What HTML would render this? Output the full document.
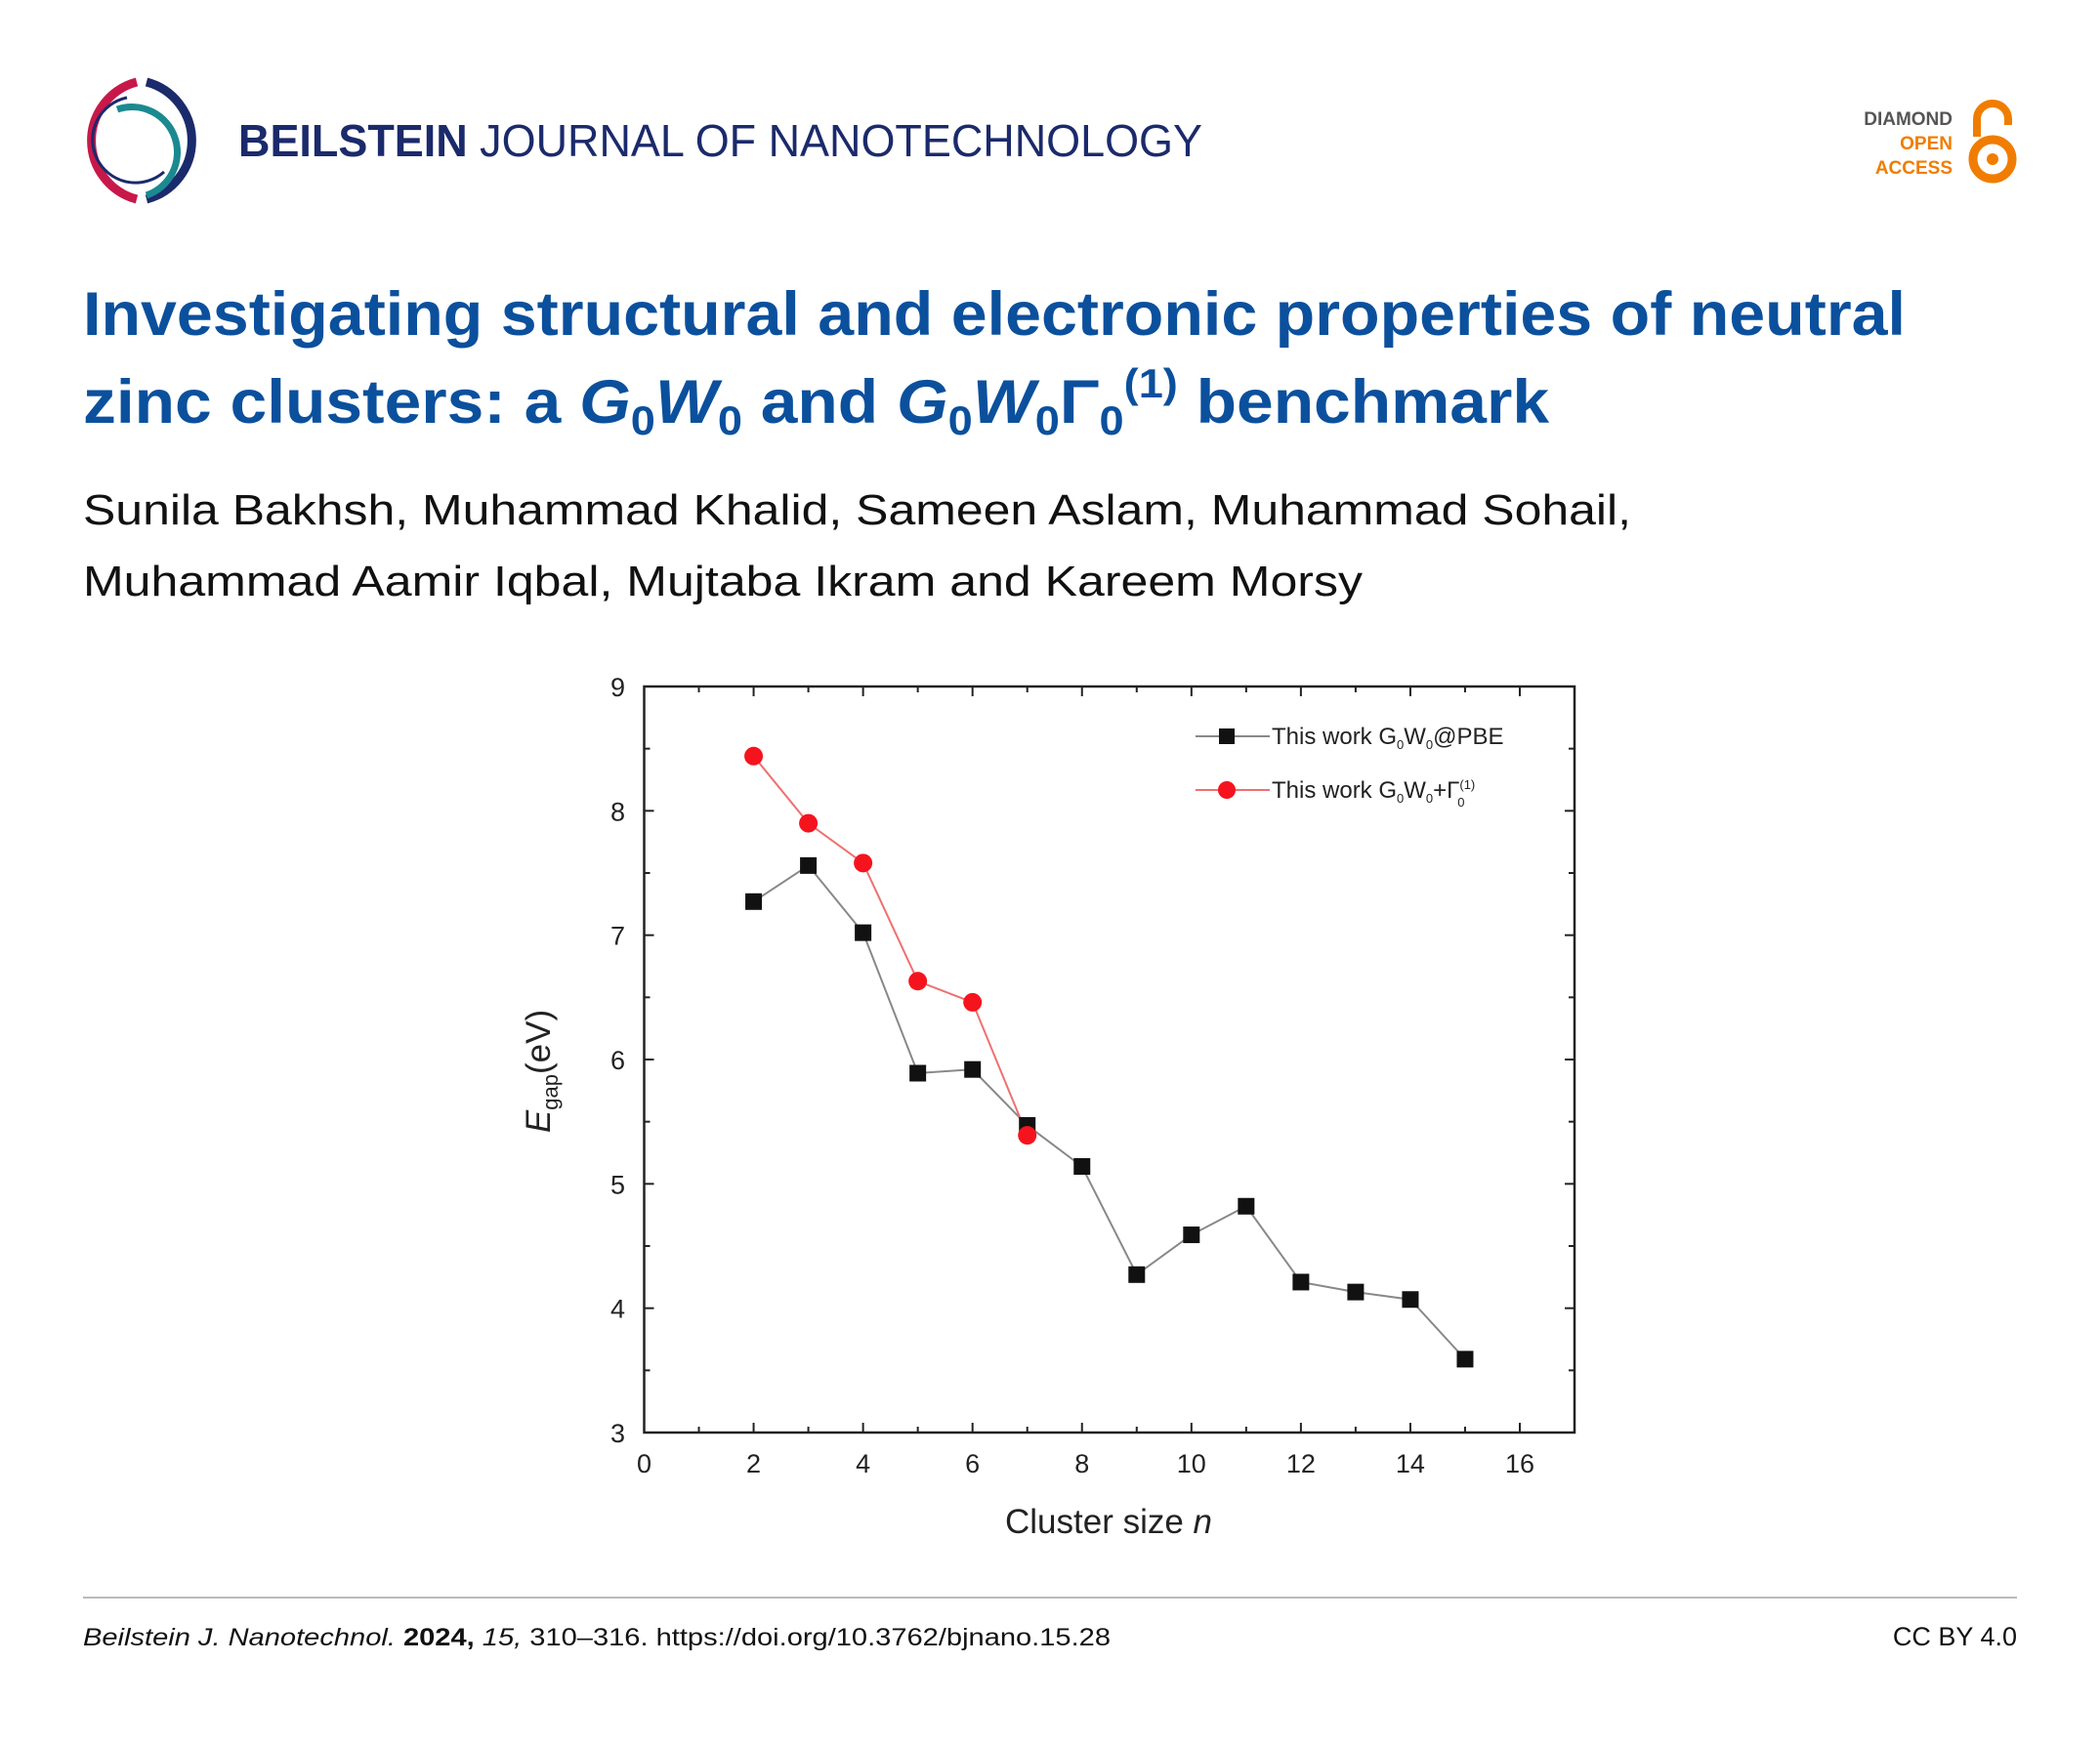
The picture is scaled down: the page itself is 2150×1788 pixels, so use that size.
<!DOCTYPE html>
<html><head><meta charset="utf-8"><style>
body{margin:0;background:#fff;}
svg{display:block;font-family:"Liberation Sans",sans-serif;}
</style></head><body>
<svg width="2150" height="1788" viewBox="0 0 2150 1788">
<g>
  <path d="M150 84 A62 62 0 0 1 150 204" fill="none" stroke="#1b2a6b" stroke-width="9"/>
  <path d="M140 84 A62 62 0 0 0 140 204" fill="none" stroke="#c8184a" stroke-width="9"/>
  <path d="M120 112 A44 44 0 1 1 150 200" fill="none" stroke="#1b8a90" stroke-width="7"/>
  <path d="M168 176 A44 44 0 1 1 130 100" fill="none" stroke="#1b2a6b" stroke-width="3"/>
</g>
<text x="244" y="160" font-size="46" fill="#1b2a6b" textLength="987" lengthAdjust="spacingAndGlyphs"><tspan font-weight="bold">BEILSTEIN</tspan> JOURNAL OF NANOTECHNOLOGY</text>
<g font-weight="bold" font-size="19" text-anchor="end">
  <text x="1999" y="128" fill="#555">DIAMOND</text>
  <text x="1999" y="153" fill="#f07d00">OPEN</text>
  <text x="1999" y="178" fill="#f07d00">ACCESS</text>
  <path d="M2024 140 V122 A16 16 0 0 1 2056 122 V128" fill="none" stroke="#f07d00" stroke-width="8"/>
  <circle cx="2040" cy="163" r="20" fill="none" stroke="#f07d00" stroke-width="9"/>
  <circle cx="2040" cy="163" r="6" fill="#f07d00"/>
</g>
<g fill="#0b509d" font-weight="bold" font-size="63">
  <text x="85" y="343" textLength="1866" lengthAdjust="spacingAndGlyphs">Investigating structural and electronic properties of neutral</text>
  <text x="85" y="433" textLength="1501" lengthAdjust="spacingAndGlyphs">zinc clusters: a <tspan font-style="italic">G</tspan><tspan font-size="42" dy="12">0</tspan><tspan font-style="italic" dy="-12">W</tspan><tspan font-size="42" dy="12">0</tspan><tspan dy="-12"> and </tspan><tspan font-style="italic">G</tspan><tspan font-size="42" dy="12">0</tspan><tspan font-style="italic" dy="-12">W</tspan><tspan font-size="42" dy="12">0</tspan><tspan dy="-12">Γ</tspan><tspan font-size="42" dy="12">0</tspan><tspan font-size="42" dy="-38">(1)</tspan><tspan dy="26"> benchmark</tspan></text>
</g>
<g font-size="44" fill="#111">
  <text x="85" y="537" textLength="1585" lengthAdjust="spacingAndGlyphs">Sunila Bakhsh, Muhammad Khalid, Sameen Aslam, Muhammad Sohail,</text>
  <text x="85" y="610" textLength="1310" lengthAdjust="spacingAndGlyphs">Muhammad Aamir Iqbal, Mujtaba Ikram and Kareem Morsy</text>
</g>
<g id="chart"></g>
<line x1="85" y1="1636" x2="2065" y2="1636" stroke="#bbb" stroke-width="2"/>
<text x="85" y="1685" font-size="25" fill="#111" textLength="1052" lengthAdjust="spacingAndGlyphs"><tspan font-style="italic">Beilstein J. Nanotechnol.</tspan> <tspan font-weight="bold">2024,</tspan> <tspan font-style="italic">15,</tspan> 310–316. https://doi.org/10.3762/bjnano.15.28</text>
<text x="2065" y="1685" font-size="27" fill="#111" text-anchor="end">CC BY 4.0</text>
</svg>
<script>
const categories=[2,3,4,5,6,7,8,9,10,11,12,13,14,15];
const g0w0Values=[7.27,7.56,7.02,5.89,5.92,5.47,5.14,4.27,4.59,4.82,4.21,4.13,4.07,3.59];
const vertexCategories=[2,3,4,5,6,7];
const vertexValues=[8.44,7.90,7.58,6.63,6.46,5.39];
const xTickLabels=[0,2,4,6,8,10,12,14,16];
const yTickLabels=[3,4,5,6,7,8,9];

const NS="http://www.w3.org/2000/svg";
const L=659.5,R=1612,T=703,B=1467;
const X=v=>L+(v-0)*(1556-659.5)/16;
const Y=v=>B-(v-3)*(B-T)/6;
const ch=document.getElementById('chart');
function mk(t,a,p){const e=document.createElementNS(NS,t);for(const k in a)e.setAttribute(k,a[k]);(p||ch).appendChild(e);return e;}
const frame=mk('rect',{x:L,y:T,width:R-L,height:B-T,fill:'none',stroke:'#222','stroke-width':2.5});


for(let v=0;v<=17;v++){const maj=v%2===0;const len=maj?10:6;
 mk('line',{x1:X(v),y1:B,x2:X(v),y2:B-len,stroke:'#222','stroke-width':2});
 mk('line',{x1:X(v),y1:T,x2:X(v),y2:T+len,stroke:'#222','stroke-width':2});}
xTickLabels.forEach(v=>{const t=mk('text',{x:X(v),y:1508,'font-size':27,'text-anchor':'middle',fill:'#222'});t.textContent=v;
 
 });
for(let v=3;v<=9;v+=0.5){const maj=Number.isInteger(v);const len=maj?10:6;
 mk('line',{x1:L,y1:Y(v),x2:L+len,y2:Y(v),stroke:'#222','stroke-width':2});
 mk('line',{x1:R,y1:Y(v),x2:R-len,y2:Y(v),stroke:'#222','stroke-width':2});}
yTickLabels.forEach(v=>{const t=mk('text',{x:640,y:Y(v)+10,'font-size':27,'text-anchor':'end',fill:'#222'});t.textContent=v;
 
 });
const xt=mk('text',{x:1135,y:1570,'font-size':35,'text-anchor':'middle',fill:'#222'});
xt.innerHTML='Cluster size <tspan font-style="italic">n</tspan>';


const yt=mk('text',{x:0,y:0,'font-size':35,'text-anchor':'middle',fill:'#222',transform:'translate(563,1097) rotate(-90)'});
yt.innerHTML='<tspan font-style="italic">E</tspan><tspan font-size="22" dy="8">gap</tspan><tspan dy="-8">(eV)</tspan>';


const l1=mk('polyline',{points:categories.map((c,i)=>X(c)+','+Y(g0w0Values[i])).join(' '),fill:'none',stroke:'#888','stroke-width':2});


const l2=mk('polyline',{points:vertexCategories.map((c,i)=>X(c)+','+Y(vertexValues[i])).join(' '),fill:'none',stroke:'#f07070','stroke-width':2});


categories.forEach((c,i)=>{const r=mk('rect',{x:X(c)-8.5,y:Y(g0w0Values[i])-8.5,width:17,height:17,fill:'#111'});
 
 });
vertexCategories.forEach((c,i)=>{const r=mk('circle',{cx:X(c),cy:Y(vertexValues[i]),r:9.5,fill:'#f5141e'});
 
 });
const lg=mk('g',{});


mk('line',{x1:1224,y1:754,x2:1300,y2:754,stroke:'#888','stroke-width':2},lg);
mk('rect',{x:1248,y:746,width:16,height:16,fill:'#111'},lg);
const t1=mk('text',{x:1302,y:762,'font-size':24,fill:'#222'},lg);
t1.innerHTML='This work G<tspan font-size="13" dy="5">0</tspan><tspan dy="-5">W</tspan><tspan font-size="13" dy="5">0</tspan><tspan dy="-5">@PBE</tspan>';


mk('line',{x1:1224,y1:809,x2:1300,y2:809,stroke:'#f07070','stroke-width':2},lg);
mk('circle',{cx:1256,cy:809,r:9,fill:'#f5141e'},lg);
const t2=mk('text',{x:1302,y:817,'font-size':24,fill:'#222'},lg);
t2.innerHTML='This work G<tspan font-size="13" dy="5">0</tspan><tspan dy="-5">W</tspan><tspan font-size="13" dy="5">0</tspan><tspan dy="-5">+Γ</tspan><tspan font-size="13" dy="-9">(1)</tspan><tspan font-size="13" dx="-18" dy="18">0</tspan>';


</script>
</body></html>
